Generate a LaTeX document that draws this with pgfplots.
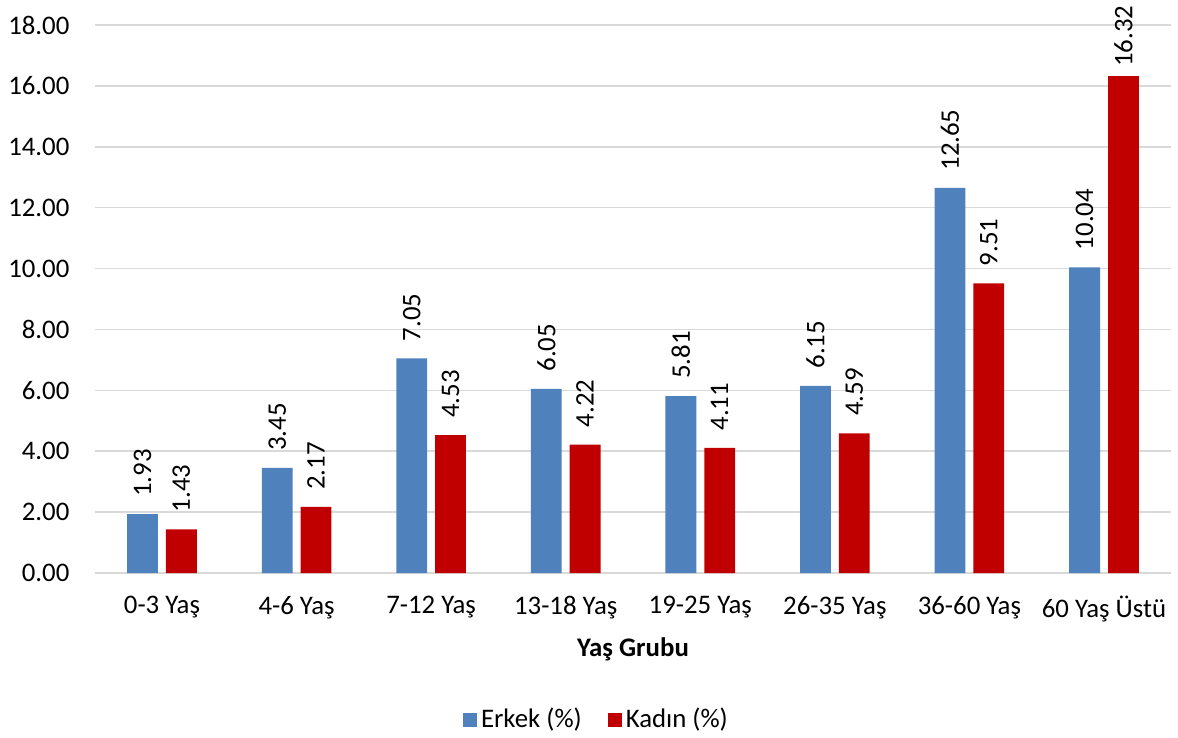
\documentclass[border=0pt]{standalone}
\usepackage{fontspec}
\setmainfont{Carlito}
\usepackage{pgfplots}
\pgfplotsset{compat=1.18}
\definecolor{cblue}{HTML}{4F81BD}
\definecolor{cred}{HTML}{C00000}
\definecolor{cgrid}{HTML}{D9D9D9}
\begin{document}
\fontsize{13.4}{16}\selectfont
\begin{tikzpicture}
\useasboundingbox (-47.35pt,-82.5pt) rectangle (541.65pt,286.5pt);
\begin{axis}[
  at={(0,0)}, anchor=south west,
  scale only axis, width=538.3pt, height=274pt,
  ybar=4pt, bar width=15.4pt,
  xmin=-0.5, xmax=7.5, ymin=0, ymax=18,
  xtick=data,
  xticklabels={0-3 Yaş,4-6 Yaş,7-12 Yaş,13-18 Yaş,19-25 Yaş,26-35 Yaş,36-60 Yaş,60 Yaş Üstü},
  ytick={0,2,...,18},
  /pgf/number format/assume math mode=true,
  tick label style={font=\fontsize{13.4}{16}\selectfont},
  yticklabel style={/pgf/number format/fixed, /pgf/number format/fixed zerofill, /pgf/number format/precision=2, xshift=-8pt},
  xticklabel style={yshift=-7pt},
  major tick length=0pt,
  axis y line*=left, y axis line style={draw=none},
  axis x line*=bottom, x axis line style={draw=cgrid, line width=0.8pt, -},
  ymajorgrids, grid style={cgrid, line width=0.8pt},
  xlabel={\textbf{Yaş Grubu}},
  xlabel style={yshift=1.5pt, font=\fontsize{13.4}{16}\selectfont},
  nodes near coords,
  visualization depends on={y \as \yval},
  every node near coord/.append style={rotate=90, anchor=west, xshift={(\yval>16 ? 0 : 4)*1pt}, font=\fontsize{13.4}{16}\selectfont,
    /pgf/number format/fixed, /pgf/number format/fixed zerofill, /pgf/number format/precision=2},
  legend style={at={(0.467,-0.2683)}, anchor=center, draw=none, legend columns=2, font=\fontsize{13.4}{16}\selectfont,
    /tikz/every even column/.append style={column sep=11pt}},
  legend image code/.code={\fill[#1] (0pt,-3.5pt) rectangle (7pt,3.5pt);},
]
\addplot[fill=cblue, draw=none] coordinates {(0,1.93) (1,3.45) (2,7.05) (3,6.05) (4,5.81) (5,6.15) (6,12.65) (7,10.04)};
\addplot[fill=cred, draw=none] coordinates {(0,1.43) (1,2.17) (2,4.53) (3,4.22) (4,4.11) (5,4.59) (6,9.51) (7,16.32)};
\legend{Erkek (\%),Kadın (\%)}
\end{axis}
\end{tikzpicture}
\end{document}
